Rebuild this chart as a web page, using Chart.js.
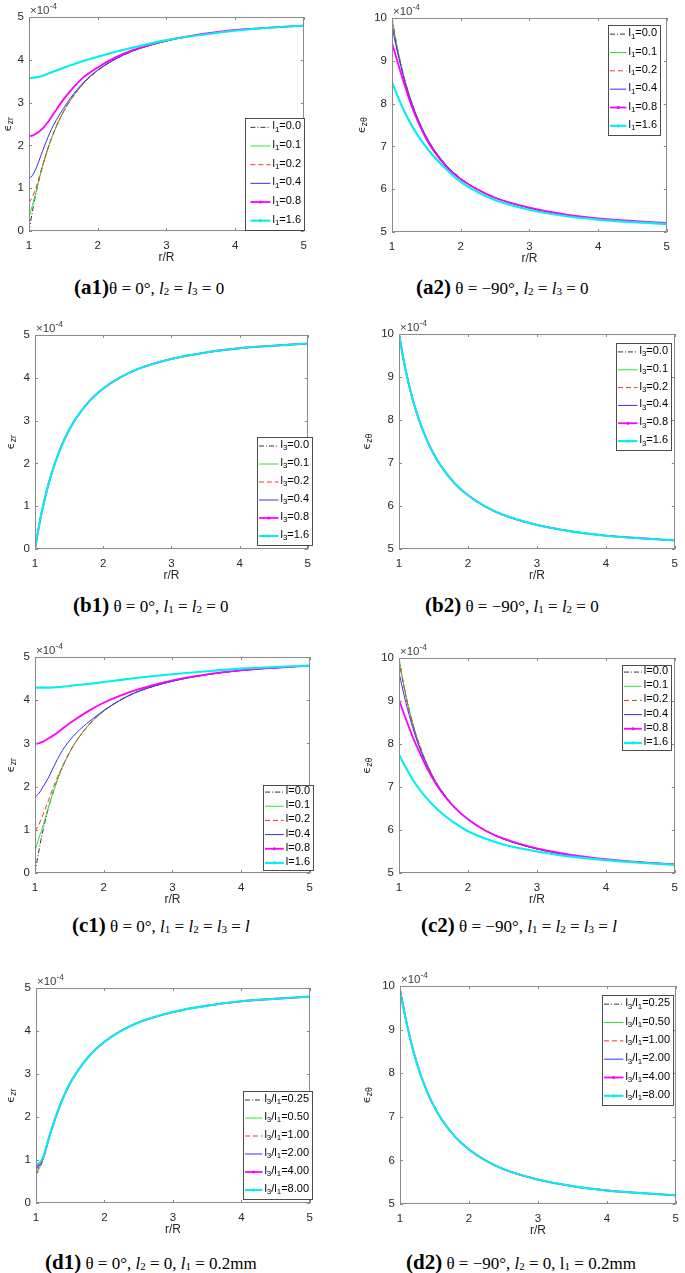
<!DOCTYPE html>
<html>
<head>
<meta charset="utf-8">
<script src="https://cdn.jsdelivr.net/npm/chart.js@4.4.1/dist/chart.umd.min.js"></script>
<style>
  body { margin: 0; background: #fff; }
  #page { position: relative; width: 685px; height: 1273px; overflow: hidden; background: #fff; }
  canvas { position: absolute; }
  .cap { position: absolute; white-space: nowrap; font-family: 'Liberation Serif', serif; font-size: 17px; line-height: 24px; color: #000; }
  .cap b { font-size: 21px; }
  .cap sub { font-size: 11px; position: relative; top: 1px; vertical-align: baseline; }
</style>
</head>
<body>
<div id="page">
  <div class="cap" style="left:74px;top:275px"><b>(a1)</b>θ = 0°, <i>l</i><sub>2</sub> = <i>l</i><sub>3</sub> = 0</div>
  <div class="cap" style="left:416px;top:275px"><b>(a2)</b> θ = −90°, <i>l</i><sub>2</sub> = <i>l</i><sub>3</sub> = 0</div>
  <div class="cap" style="left:73px;top:593px"><b>(b1)</b> θ = 0°, <i>l</i><sub>1</sub> = <i>l</i><sub>2</sub> = 0</div>
  <div class="cap" style="left:425px;top:593px"><b>(b2)</b> θ = −90°, <i>l</i><sub>1</sub> = <i>l</i><sub>2</sub> = 0</div>
  <div class="cap" style="left:72px;top:913px"><b>(c1)</b> θ = 0°, <i>l</i><sub>1</sub> = <i>l</i><sub>2</sub> = <i>l</i><sub>3</sub> = <i>l</i></div>
  <div class="cap" style="left:421px;top:913px"><b>(c2)</b> θ = −90°, <i>l</i><sub>1</sub> = <i>l</i><sub>2</sub> = <i>l</i><sub>3</sub> = <i>l</i></div>
  <div class="cap" style="left:45px;top:1250px"><b>(d1)</b> θ = 0°, <i>l</i><sub>2</sub> = 0, <i>l</i><sub>1</sub> = 0.2mm</div>
  <div class="cap" style="left:406px;top:1250px"><b>(d2)</b> θ = −90°, <i>l</i><sub>2</sub> = 0, l<sub>1</sub> = 0.2mm</div>
</div>
<script>
// r/R sample positions
const xs = [1, 1.05, 1.1, 1.2, 1.3, 1.4, 1.5, 1.6, 1.8, 2, 2.25, 2.5, 3, 3.5, 4, 4.5, 5];

// values in units of 1e-4
const zrBase = [0, 0.46, 0.87, 1.53, 2.04, 2.45, 2.78, 3.05, 3.46, 3.75, 4.01, 4.2, 4.44, 4.59, 4.69, 4.75, 4.8];
const ztBase = [10, 9.54, 9.13, 8.47, 7.96, 7.55, 7.22, 6.95, 6.54, 6.25, 5.99, 5.8, 5.56, 5.41, 5.31, 5.25, 5.2];

const a1Series = [
  zrBase,
  [0.33, 0.6, 0.9, 1.53, 2.04, 2.45, 2.78, 3.05, 3.46, 3.75, 4.01, 4.2, 4.44, 4.59, 4.69, 4.75, 4.8],
  [0.66, 0.8, 1.0, 1.55, 2.05, 2.45, 2.78, 3.05, 3.46, 3.75, 4.01, 4.2, 4.44, 4.59, 4.69, 4.75, 4.8],
  [1.22, 1.3, 1.45, 1.88, 2.28, 2.6, 2.86, 3.1, 3.48, 3.76, 4.01, 4.2, 4.44, 4.59, 4.69, 4.75, 4.8],
  [2.22, 2.23, 2.27, 2.4, 2.6, 2.84, 3.07, 3.27, 3.6, 3.82, 4.05, 4.22, 4.45, 4.6, 4.7, 4.75, 4.8],
  [3.57, 3.58, 3.59, 3.63, 3.69, 3.75, 3.81, 3.87, 3.98, 4.07, 4.18, 4.28, 4.46, 4.58, 4.68, 4.75, 4.8]
];
const a2Series = [
  ztBase,
  [9.97, 9.53, 9.13, 8.47, 7.96, 7.55, 7.22, 6.95, 6.54, 6.25, 5.99, 5.8, 5.56, 5.41, 5.31, 5.25, 5.2],
  [9.92, 9.5, 9.11, 8.46, 7.96, 7.55, 7.22, 6.95, 6.54, 6.25, 5.99, 5.8, 5.56, 5.41, 5.31, 5.25, 5.2],
  [9.79, 9.42, 9.06, 8.44, 7.95, 7.55, 7.22, 6.95, 6.54, 6.25, 5.99, 5.8, 5.56, 5.41, 5.31, 5.25, 5.2],
  [9.42, 9.14, 8.87, 8.35, 7.88, 7.5, 7.17, 6.91, 6.51, 6.23, 5.99, 5.8, 5.57, 5.42, 5.32, 5.26, 5.21],
  [8.5, 8.3, 8.1, 7.75, 7.45, 7.2, 6.98, 6.78, 6.45, 6.17, 5.93, 5.75, 5.52, 5.38, 5.29, 5.23, 5.19]
];
const b1Series = [zrBase, zrBase, zrBase, zrBase, zrBase, zrBase];
const b2Series = [ztBase, ztBase, ztBase, ztBase, ztBase, ztBase];
const c1Series = [
  zrBase,
  [0.5, 0.78, 1.0, 1.55, 2.04, 2.45, 2.78, 3.05, 3.46, 3.75, 4.01, 4.2, 4.44, 4.59, 4.69, 4.75, 4.8],
  [0.97, 1.1, 1.28, 1.7, 2.12, 2.47, 2.79, 3.05, 3.46, 3.75, 4.01, 4.2, 4.44, 4.59, 4.69, 4.75, 4.8],
  [1.76, 1.83, 1.95, 2.22, 2.55, 2.84, 3.06, 3.24, 3.52, 3.76, 4.01, 4.2, 4.44, 4.59, 4.69, 4.75, 4.8],
  [2.99, 3.0, 3.03, 3.12, 3.22, 3.34, 3.46, 3.57, 3.77, 3.94, 4.11, 4.25, 4.46, 4.6, 4.69, 4.75, 4.8],
  [4.29, 4.29, 4.29, 4.29, 4.3, 4.31, 4.33, 4.35, 4.38, 4.42, 4.47, 4.52, 4.6, 4.67, 4.73, 4.77, 4.8]
];
const c2Series = [
  ztBase,
  [9.98, 9.54, 9.13, 8.47, 7.96, 7.55, 7.22, 6.95, 6.54, 6.25, 5.99, 5.8, 5.56, 5.41, 5.31, 5.25, 5.2],
  [9.93, 9.5, 9.11, 8.46, 7.96, 7.55, 7.22, 6.95, 6.54, 6.25, 5.99, 5.8, 5.56, 5.41, 5.31, 5.25, 5.2],
  [9.66, 9.3, 8.96, 8.38, 7.9, 7.52, 7.2, 6.95, 6.54, 6.25, 5.99, 5.8, 5.56, 5.41, 5.31, 5.25, 5.2],
  [9.03, 8.8, 8.58, 8.16, 7.8, 7.46, 7.17, 6.92, 6.53, 6.25, 5.99, 5.81, 5.57, 5.42, 5.32, 5.25, 5.2],
  [7.76, 7.6, 7.45, 7.17, 6.94, 6.74, 6.57, 6.42, 6.17, 5.97, 5.8, 5.67, 5.5, 5.38, 5.3, 5.24, 5.19]
];
const d1Series = [
  [0.66, 0.8, 1.0, 1.56, 2.05, 2.46, 2.79, 3.05, 3.46, 3.75, 4.01, 4.2, 4.44, 4.59, 4.69, 4.75, 4.8],
  [0.7, 0.82, 1.0, 1.56, 2.05, 2.46, 2.79, 3.05, 3.46, 3.75, 4.01, 4.2, 4.44, 4.59, 4.69, 4.75, 4.8],
  [0.75, 0.85, 1.01, 1.56, 2.05, 2.46, 2.79, 3.05, 3.46, 3.75, 4.01, 4.2, 4.44, 4.59, 4.69, 4.75, 4.8],
  [0.8, 0.87, 1.02, 1.57, 2.05, 2.46, 2.79, 3.05, 3.46, 3.75, 4.01, 4.2, 4.44, 4.59, 4.69, 4.75, 4.8],
  [0.85, 0.9, 1.03, 1.57, 2.05, 2.46, 2.79, 3.05, 3.46, 3.75, 4.01, 4.2, 4.44, 4.59, 4.69, 4.75, 4.8],
  [0.89, 0.93, 1.05, 1.58, 2.06, 2.46, 2.79, 3.05, 3.46, 3.75, 4.01, 4.2, 4.44, 4.59, 4.69, 4.75, 4.8]
];
const d2Series = [
  [9.97, 9.54, 9.13, 8.47, 7.96, 7.55, 7.22, 6.95, 6.54, 6.25, 5.99, 5.8, 5.56, 5.41, 5.31, 5.25, 5.2],
  [9.95, 9.53, 9.13, 8.47, 7.96, 7.55, 7.22, 6.95, 6.54, 6.25, 5.99, 5.8, 5.56, 5.41, 5.31, 5.25, 5.2],
  [9.93, 9.53, 9.13, 8.47, 7.96, 7.55, 7.22, 6.95, 6.54, 6.25, 5.99, 5.8, 5.56, 5.41, 5.31, 5.25, 5.2],
  [9.92, 9.52, 9.12, 8.47, 7.96, 7.55, 7.22, 6.95, 6.54, 6.25, 5.99, 5.8, 5.56, 5.41, 5.31, 5.25, 5.2],
  [9.9, 9.51, 9.12, 8.47, 7.96, 7.55, 7.22, 6.95, 6.54, 6.25, 5.99, 5.8, 5.56, 5.41, 5.31, 5.25, 5.2],
  [9.88, 9.5, 9.12, 8.47, 7.96, 7.55, 7.22, 6.95, 6.54, 6.25, 5.99, 5.8, 5.56, 5.41, 5.31, 5.25, 5.2]
];

// legend labels ("_" marks a one-char subscript)
const l1Labels = ['l_1=0.0', 'l_1=0.1', 'l_1=0.2', 'l_1=0.4', 'l_1=0.8', 'l_1=1.6'];
const l3Labels = ['l_3=0.0', 'l_3=0.1', 'l_3=0.2', 'l_3=0.4', 'l_3=0.8', 'l_3=1.6'];
const lLabels = ['l=0.0', 'l=0.1', 'l=0.2', 'l=0.4', 'l=0.8', 'l=1.6'];
const ratioLabels = ['l_3/l_1=0.25', 'l_3/l_1=0.50', 'l_3/l_1=1.00', 'l_3/l_1=2.00', 'l_3/l_1=4.00', 'l_3/l_1=8.00'];

const xTicks = [1, 2, 3, 4, 5];
const zrTicks = [0, 1, 2, 3, 4, 5];
const ztTicks = [5, 6, 7, 8, 9, 10];

// line styles, one per series (MATLAB k-. g r-- b m.- c.-)
const styles = [
  { color: '#000000', dash: [5, 2, 1, 2], width: 0.8 },
  { color: '#33e033', dash: [], width: 1 },
  { color: '#ff3030', dash: [5, 3], width: 1 },
  { color: '#3030ff', dash: [], width: 1 },
  { color: '#ff00ff', dash: [], width: 1.8, marker: true },
  { color: '#00f0f0', dash: [], width: 2.1, marker: true }
];

// plot boxes in page pixels, legend box [x, y, w, h], ylx = y label offset
const panels = [
  { L: 29, T: 17, R: 309, B: 231, kind: 'zr', series: a1Series, labels: l1Labels, legend: [245, 118, 59, 112], ylx: 21 },
  { L: 392, T: 18, R: 672, B: 232, kind: 'zt', series: a2Series, labels: l1Labels, legend: [608, 25, 52, 110], ylx: 30 },
  { L: 35, T: 335, R: 313, B: 549, kind: 'zr', series: b1Series, labels: l3Labels, legend: [257, 437, 55, 108], ylx: 24 },
  { L: 399, T: 334, R: 680, B: 549, kind: 'zt', series: b2Series, labels: l3Labels, legend: [616, 343, 55, 107], ylx: 32 },
  { L: 35, T: 657, R: 315, B: 873, kind: 'zr', series: c1Series, labels: lLabels, legend: [263, 785, 50, 85], ylx: 24 },
  { L: 399, T: 658, R: 680, B: 873, kind: 'zt', series: c2Series, labels: lLabels, legend: [622, 665, 49, 85], ylx: 32 },
  { L: 36, T: 988, R: 315, B: 1203, kind: 'zr', series: d1Series, labels: ratioLabels, legend: [243, 1091, 69, 108], ylx: 25 },
  { L: 400, T: 986, R: 681, B: 1204, kind: 'zt', series: d2Series, labels: ratioLabels, legend: [602, 995, 71, 110], ylx: 33 }
];

const SANS = '"Liberation Sans", Arial, sans-serif';
const tickFont = { family: SANS, size: 11.5 };
const tickColor = '#262626';
const axisColor = '#8a8a8a';

// text with "_x" subscripts
function richWidth(ctx, str, size) {
  let w = 0;
  for (let i = 0; i < str.length; i++) {
    if (str[i] === '_') {
      ctx.font = (size * 0.72) + 'px ' + SANS;
      w += ctx.measureText(str[++i]).width;
    } else {
      ctx.font = size + 'px ' + SANS;
      w += ctx.measureText(str[i]).width;
    }
  }
  return w;
}
function drawRich(ctx, str, x, y, size) {
  for (let i = 0; i < str.length; i++) {
    if (str[i] === '_') {
      ctx.font = (size * 0.72) + 'px ' + SANS;
      const c = str[++i];
      ctx.fillText(c, x, y + size * 0.3);
      x += ctx.measureText(c).width;
    } else {
      ctx.font = size + 'px ' + SANS;
      ctx.fillText(str[i], x, y);
      x += ctx.measureText(str[i]).width;
    }
  }
}

const page = document.getElementById('page');

panels.forEach(p => {
  const W = p.R - p.L, H = p.B - p.T;
  const cw = W + 46, ch = H + 52;
  const cv = document.createElement('canvas');
  cv.width = cw; cv.height = ch;
  cv.style.left = (p.L - 40) + 'px';
  cv.style.top = (p.T - 16) + 'px';
  cv.style.width = cw + 'px';
  cv.style.height = ch + 'px';
  page.appendChild(cv);

  const yTicks = p.kind === 'zr' ? zrTicks : ztTicks;

  const frame = {
    id: 'frame',
    afterDraw(chart) {
      const ctx = chart.ctx;
      const a = chart.chartArea;
      const xs_ = chart.scales.x, ys_ = chart.scales.y;
      ctx.save();
      // box
      ctx.strokeStyle = axisColor;
      ctx.lineWidth = 1;
      ctx.setLineDash([]);
      ctx.strokeRect(Math.round(a.left) + 0.5, Math.round(a.top) + 0.5, Math.round(a.width) - 1, Math.round(a.height) - 1);
      // inward ticks on all sides
      ctx.beginPath();
      xTicks.forEach(v => {
        const px = Math.round(xs_.getPixelForValue(v)) + 0.5;
        ctx.moveTo(px, a.bottom); ctx.lineTo(px, a.bottom - 3);
        ctx.moveTo(px, a.top); ctx.lineTo(px, a.top + 3);
      });
      yTicks.forEach(v => {
        const py = Math.round(ys_.getPixelForValue(v)) + 0.5;
        ctx.moveTo(a.left, py); ctx.lineTo(a.left + 3, py);
        ctx.moveTo(a.right, py); ctx.lineTo(a.right - 3, py);
      });
      ctx.stroke();

      // x title
      ctx.fillStyle = tickColor;
      ctx.textAlign = 'center';
      ctx.textBaseline = 'middle';
      ctx.font = '12px ' + SANS;
      ctx.fillText('r/R', (a.left + a.right) / 2, a.bottom + 27);

      // exponent label
      ctx.fillStyle = '#404040';
      ctx.textBaseline = 'alphabetic';
      ctx.textAlign = 'left';
      ctx.font = '11.5px ' + SANS;
      ctx.fillText('×10', a.left + 1, a.top - 3);
      const ew = ctx.measureText('×10').width;
      ctx.font = '8.5px ' + SANS;
      ctx.fillText('-4', a.left + 1 + ew, a.top - 8);

      // y label
      ctx.save();
      ctx.translate(a.left - p.ylx, (a.top + a.bottom) / 2);
      ctx.rotate(-Math.PI / 2);
      ctx.fillStyle = tickColor;
      ctx.textBaseline = 'middle';
      const sub = p.kind === 'zr' ? 'zr' : 'zθ';
      ctx.font = '11px "DejaVu Sans", ' + SANS;
      const w1 = ctx.measureText('ϵ').width;
      ctx.font = '8px "DejaVu Sans", ' + SANS;
      const w2 = ctx.measureText(sub).width;
      const sx = -(w1 + w2) / 2;
      ctx.font = '11px "DejaVu Sans", ' + SANS;
      ctx.fillText('ϵ', sx, 0);
      ctx.font = '8px "DejaVu Sans", ' + SANS;
      ctx.fillText(sub, sx + w1, 3);
      ctx.restore();

      // legend
      const lx = p.legend[0] - p.L + a.left;
      const ly = p.legend[1] - p.T + a.top;
      const lw = p.legend[2], lh = p.legend[3];
      ctx.fillStyle = '#fff';
      ctx.fillRect(lx, ly, lw, lh);
      ctx.strokeStyle = '#3a3a3a';
      ctx.lineWidth = 0.9;
      ctx.strokeRect(Math.round(lx) + 0.5, Math.round(ly) + 0.5, lw, lh);
      const pitch = lh / p.labels.length;
      p.labels.forEach((lab, i) => {
        const cy = ly + pitch * (i + 0.5);
        const tw = richWidth(ctx, lab, 11);
        const tx = lx + lw - 3 - tw;
        const lineEnd = tx - 2;
        const lineStart = Math.max(lx + 2, lineEnd - 20);
        const st = styles[i];
        ctx.strokeStyle = st.color;
        ctx.lineWidth = st.width;
        ctx.setLineDash(st.dash);
        ctx.beginPath();
        ctx.moveTo(lineStart, cy); ctx.lineTo(lineEnd, cy);
        ctx.stroke();
        ctx.setLineDash([]);
        if (st.marker) {
          ctx.fillStyle = st.color;
          ctx.beginPath();
          ctx.arc((lineStart + lineEnd) / 2, cy, 1.6, 0, Math.PI * 2);
          ctx.fill();
        }
        ctx.fillStyle = '#000';
        ctx.textBaseline = 'middle';
        drawRich(ctx, lab, tx, cy - 1, 11);
      });
      ctx.restore();
    }
  };

  new Chart(cv, {
    type: 'line',
    data: {
      datasets: p.series.map((s, i) => ({
        label: p.labels[i],
        data: xs.map((x, j) => ({ x: x, y: s[j] })),
        borderColor: styles[i].color,
        borderWidth: styles[i].width,
        borderDash: styles[i].dash,
        pointRadius: 0,
        fill: false,
        cubicInterpolationMode: 'monotone',
        order: 10 - i // later series on top, as in MATLAB
      }))
    },
    options: {
      responsive: false,
      animation: false,
      layout: { padding: { top: 16, right: 6, left: 0, bottom: 0 } },
      plugins: { legend: { display: false }, tooltip: { enabled: false } },
      scales: {
        x: {
          type: 'linear',
          min: 1, max: 5,
          afterBuildTicks: s => { s.ticks = xTicks.map(v => ({ value: v })); },
          afterFit: s => { s.height = 36; },
          grid: { display: false, drawTicks: false },
          border: { display: false },
          ticks: { padding: 8, font: tickFont, color: tickColor, maxRotation: 0 },
          title: { display: false }
        },
        y: {
          type: 'linear',
          min: yTicks[0], max: yTicks[yTicks.length - 1],
          afterBuildTicks: s => { s.ticks = yTicks.map(v => ({ value: v })); },
          afterFit: s => { s.width = 40; },
          grid: { display: false, drawTicks: false },
          border: { display: false },
          ticks: { padding: 5, font: tickFont, color: tickColor }
        }
      }
    },
    plugins: [frame]
  });
});
</script>
</body>
</html>
